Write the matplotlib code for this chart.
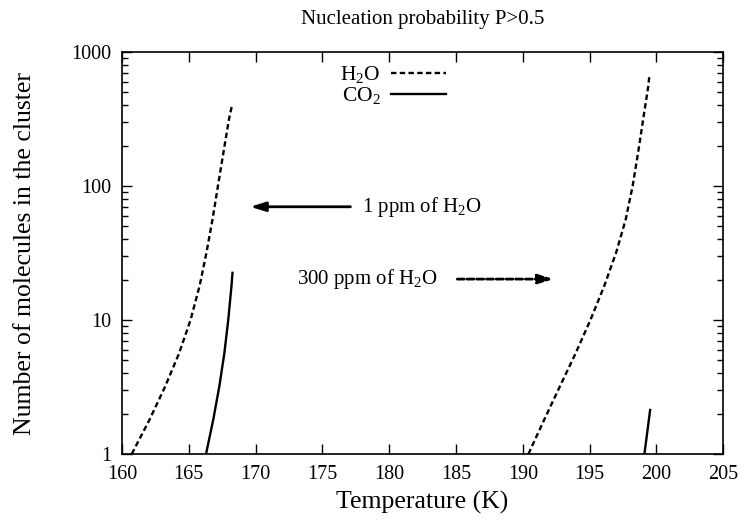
import matplotlib
matplotlib.use("Agg")
import matplotlib.pyplot as plt
from matplotlib.ticker import FixedLocator, FixedFormatter, LogLocator, NullFormatter, NullLocator

plt.rcParams["font.family"] = ["Liberation Serif", "DejaVu Serif"]
plt.rcParams["mathtext.fontset"] = "custom"
plt.rcParams["mathtext.rm"] = "Liberation Serif"
plt.rcParams["mathtext.it"] = "Liberation Serif:italic"
plt.rcParams["mathtext.bf"] = "Liberation Serif:bold"

# Cluster size needed for P>0.5, 1 ppm of H2O
t_h2o_1ppm = [160.726, 162.056, 163.234, 164.260, 165.129, 165.810, 166.327,
              166.768, 167.180, 167.600, 168.019, 168.24]
n_h2o_1ppm = [1, 1.8, 3.2, 5.6, 10, 18, 32, 56, 100, 180, 320, 402]
t_co2_1ppm = [166.289, 166.828, 167.285, 167.656, 167.952, 168.195, 168.27]
n_co2_1ppm = [1, 1.8, 3.2, 5.6, 10, 18, 22.5]

# Cluster size needed for P>0.5, 300 ppm of H2O
t_h2o_300ppm = [190.421, 191.600, 192.779, 193.940, 195.063, 196.103, 196.994,
                197.698, 198.222, 198.642, 199.023, 199.398, 199.48]
n_h2o_300ppm = [1, 1.8, 3.2, 5.6, 10, 18, 32, 56, 100, 180, 320, 560, 673]
t_co2_300ppm = [199.106, 199.533]
n_co2_300ppm = [1, 2.13]

x_ticks = [160, 165, 170, 175, 180, 185, 190, 195, 200, 205]
y_ticks = [1, 10, 100, 1000]
y_tick_labels = ["1", "10", "100", "1000"]

fs_tick = 14.5
fs_text = 15
fs_label = 18.5

fig = plt.figure(figsize=(7.44, 5.26), dpi=100)
ax = fig.add_axes([0.164, 0.1369, 0.808, 0.7642])

dash = (2.3, 1.4)
lw = 1.7
h1, = ax.plot(t_h2o_1ppm, n_h2o_1ppm, color="black", lw=lw, linestyle=(0, dash), label="H$_2$O")
ax.plot(t_h2o_300ppm, n_h2o_300ppm, color="black", lw=lw, linestyle=(0, dash))
h2, = ax.plot(t_co2_1ppm, n_co2_1ppm, color="black", lw=lw, label="CO$_2$")
ax.plot(t_co2_300ppm, n_co2_300ppm, color="black", lw=lw)

ax.set_yscale("log")
ax.set_xlim(160, 205)
ax.set_ylim(1, 1000)

ax.xaxis.set_major_locator(FixedLocator(x_ticks))
ax.xaxis.set_minor_locator(NullLocator())
ax.yaxis.set_major_locator(FixedLocator(y_ticks))
ax.yaxis.set_major_formatter(FixedFormatter(y_tick_labels))
ax.yaxis.set_minor_locator(LogLocator(base=10, subs=range(2, 10)))
ax.yaxis.set_minor_formatter(NullFormatter())

ax.tick_params(which="both", direction="in", top=True, right=True, labelsize=fs_tick, width=1.0)
ax.tick_params(which="major", length=7, pad=8)
ax.tick_params(which="minor", length=4)
for sp in ax.spines.values():
    sp.set_linewidth(1.2)

ax.set_xlabel("Temperature (K)", fontsize=fs_label, labelpad=5)
ax.set_ylabel("Number of molecules in the cluster", fontsize=fs_label, labelpad=25)
ax.set_title("Nucleation probability P>0.5", fontsize=fs_text, pad=20)

ax.legend(handles=[h1, h2], loc="upper right", bbox_to_anchor=(0.539, 0.970),
          frameon=False, markerfirst=False, fontsize=fs_text + 0.5, borderpad=0,
          borderaxespad=0, handlelength=2.55, handletextpad=0.5, labelspacing=0.0)

# Arrows marking which curves belong to each water abundance
ax.annotate("", xy=(169.6, 70), xytext=(177.1, 70),
            arrowprops=dict(arrowstyle="-|>,head_length=0.9,head_width=0.28",
                            color="black", lw=2.0, shrinkA=0, shrinkB=0))
ax.text(178.0, 70, "1 ppm of H$_2$O", fontsize=fs_text, ha="left", va="center")

ax.annotate("", xy=(192.3, 20.2), xytext=(185.1, 20.2),
            arrowprops=dict(arrowstyle="-|>,head_length=0.9,head_width=0.28",
                            color="black", lw=2.0, linestyle=(0, (2.5, 1.0)),
                            shrinkA=0, shrinkB=0))
ax.text(183.6, 20.2, "300 ppm of H$_2$O", fontsize=fs_text, ha="right", va="center")

fig.savefig("out.png", dpi=100)
